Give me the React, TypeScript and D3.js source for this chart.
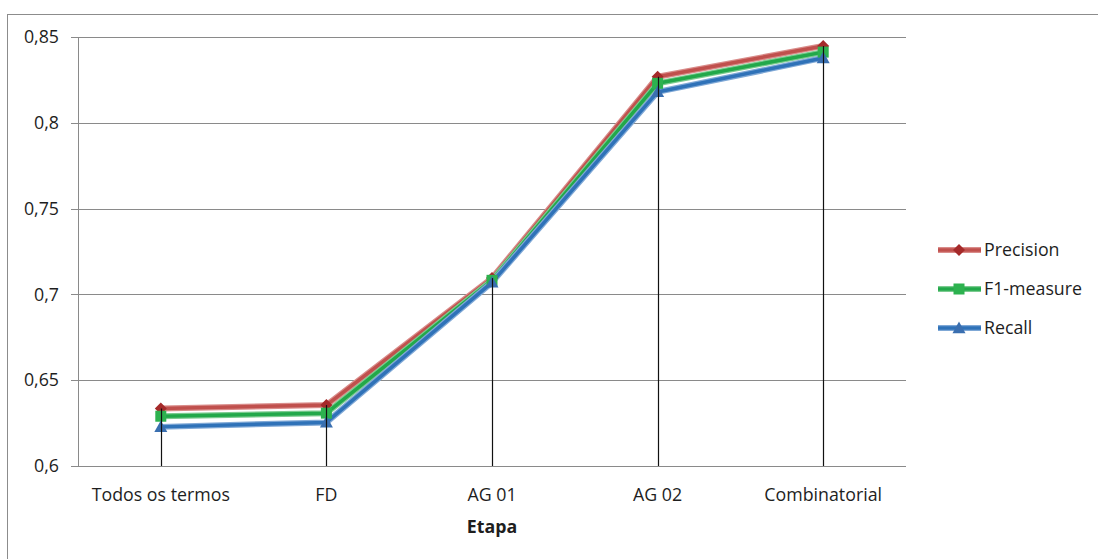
import React from "react";
import * as d3 from "d3";

const categories = ["Todos os termos", "FD", "AG 01", "AG 02", "Combinatorial"];
const precision = [0.6335, 0.6355, 0.7095, 0.8268, 0.8448];
const f1Measure = [0.6290, 0.6308, 0.7082, 0.8230, 0.8412];
const recall = [0.6228, 0.6254, 0.7070, 0.8180, 0.8378];
const yTicks = [0.6, 0.65, 0.7, 0.75, 0.8, 0.85];
const seriesNames = ["Precision", "F1-measure", "Recall"];

const W = 1098;
const H = 559;
const plot = { left: 78, right: 906, top: 37, bottom: 466 };
const FONT = "'Open Sans', Lato, sans-serif";
const FS = 17.8;

const series = [
  { name: seriesNames[0], values: precision, color: "#C0504D", edge: "#D98C8A", marker: "diamond", mcolor: "#A52A2A" },
  { name: seriesNames[1], values: f1Measure, color: "#22A84A", edge: "#7BCB8F", marker: "square", mcolor: "#2DB24F" },
  { name: seriesNames[2], values: recall, color: "#2F72B8", edge: "#7FA8D6", marker: "triangle", mcolor: "#3A6FB0" },
];

function Marker({ kind, x, y, color }: { kind: string; x: number; y: number; color: string }) {
  if (kind === "diamond") {
    const s = 6;
    return <path d={`M${x},${y - s}L${x + s},${y}L${x},${y + s}L${x - s},${y}Z`} fill={color} />;
  }
  if (kind === "square") {
    const s = 5.5;
    return <rect x={x - s} y={y - s} width={2 * s} height={2 * s} fill={color} />;
  }
  const s = 6.5;
  return <path d={`M${x},${y - s}L${x + s},${y + s * 0.8}L${x - s},${y + s * 0.8}Z`} fill={color} />;
}

export default function App() {
  const x = d3
    .scaleBand<string>()
    .domain(categories)
    .range([plot.left, plot.right]);
  const cx = (c: string) => (x(c) as number) + x.bandwidth() / 2;
  const y = d3.scaleLinear().domain([0.6, 0.85]).range([plot.bottom, plot.top]);
  const fmt = (v: number) => d3.format(".2~f")(v).replace(".", ",");

  const line = d3
    .line<number>()
    .x((_, i) => cx(categories[i]))
    .y((v) => y(v));

  const legendX = 938;
  const legendY = [250, 289, 328];

  return (
    <svg
      width={W}
      height={H}
      style={{ position: "absolute", left: 0, top: 0, background: "#fff" }}
      fontFamily={FONT}
    >
      <rect x={7.5} y={14.5} width={W + 20} height={H + 20} fill="#fff" stroke="#8c8c8c" strokeWidth={1} />

      {/* gridlines */}
      {yTicks.map((t) => (
        <line key={t} x1={plot.left} x2={plot.right} y1={Math.round(y(t)) + 0.5} y2={Math.round(y(t)) + 0.5} stroke="#8a8a8a" strokeWidth={1} />
      ))}

      {/* y axis */}
      <line x1={plot.left + 0.5} x2={plot.left + 0.5} y1={plot.top} y2={plot.bottom} stroke="#8a8a8a" />
      {yTicks.map((t) => (
        <g key={"t" + t}>
          <line x1={plot.left - 7} x2={plot.left} y1={Math.round(y(t)) + 0.5} y2={Math.round(y(t)) + 0.5} stroke="#8a8a8a" />
          <text x={59} y={y(t)} dy="0.35em" textAnchor="end" fontSize={FS} fill="#1e1e1e">
            {fmt(t)}
          </text>
        </g>
      ))}

      {/* series lines */}
      {series.map((s) => (
        <g key={s.name}>
          <path d={line(s.values) || ""} fill="none" stroke={s.edge} strokeWidth={6} strokeLinejoin="round" />
          <path d={line(s.values) || ""} fill="none" stroke={s.color} strokeWidth={3.5} strokeLinejoin="round" />
        </g>
      ))}
      {series.map((s) =>
        s.values.map((v, i) => (
          <Marker key={s.name + i} kind={s.marker} x={cx(categories[i])} y={y(v)} color={s.mcolor} />
        ))
      )}

      {/* drop lines */}
      {categories.map((c, i) => (
        <line
          key={"drop" + c}
          x1={Math.round(cx(c)) + 0.5}
          x2={Math.round(cx(c)) + 0.5}
          y1={y(Math.max(precision[i], f1Measure[i], recall[i]))}
          y2={plot.bottom}
          stroke="#111"
          strokeWidth={1.2}
        />
      ))}

      {/* category labels */}
      {categories.map((c) => (
        <text key={"c" + c} x={cx(c)} y={501} textAnchor="middle" fontSize={FS} fill="#1e1e1e">
          {c}
        </text>
      ))}
      <text x={(plot.left + plot.right) / 2} y={533} textAnchor="middle" fontSize={FS} fontWeight="bold" fill="#1e1e1e">
        Etapa
      </text>

      {/* legend */}
      {series.map((s, i) => (
        <g key={"lg" + s.name}>
          <line x1={legendX} x2={legendX + 43} y1={legendY[i]} y2={legendY[i]} stroke={s.edge} strokeWidth={6} />
          <line x1={legendX} x2={legendX + 43} y1={legendY[i]} y2={legendY[i]} stroke={s.color} strokeWidth={3.5} />
          <Marker kind={s.marker} x={legendX + 21} y={legendY[i]} color={s.mcolor} />
          <text x={legendX + 46} y={legendY[i]} dy="0.35em" fontSize={FS} fill="#1e1e1e">
            {s.name}
          </text>
        </g>
      ))}
    </svg>
  );
}
